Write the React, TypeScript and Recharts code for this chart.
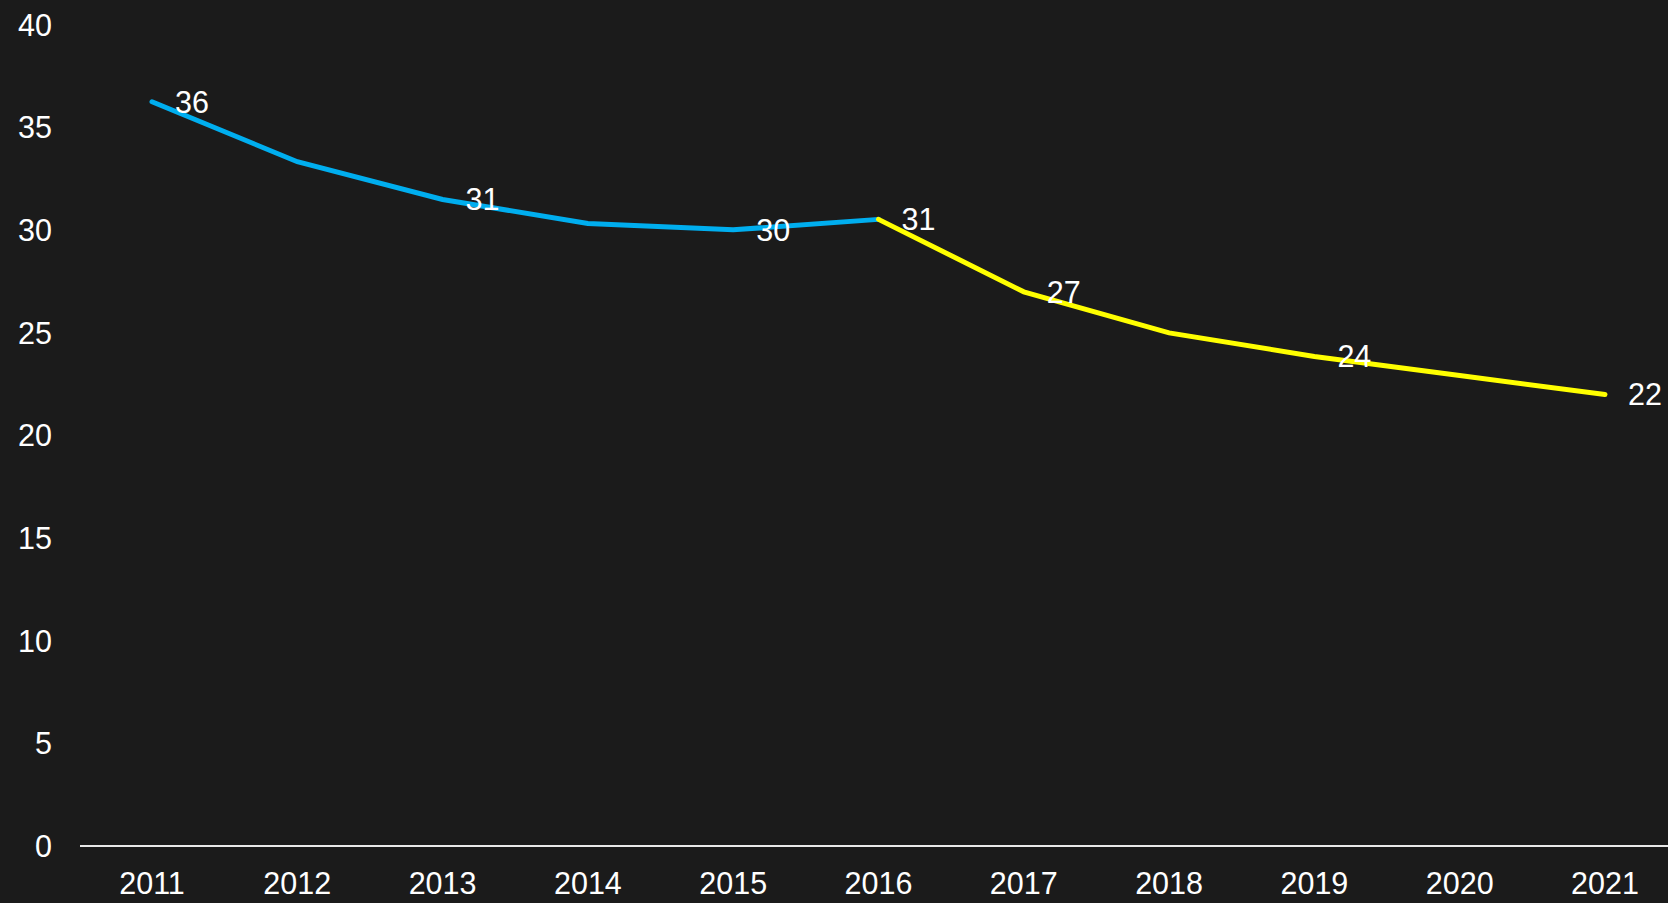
import { CartesianGrid, LabelList, Line, LineChart, XAxis, YAxis } from "recharts";

const years = ["2011", "2012", "2013", "2014", "2015", "2016", "2017", "2018", "2019", "2020", "2021"];
// blue part up to 2016, yellow from 2016 on
const blueValues = [36.26, 33.34, 31.5, 30.33, 30.02, 30.53, null, null, null, null, null];
const yellowValues = [null, null, null, null, null, 30.53, 27.0, 25.0, 23.85, 22.92, 22.0];
const blueLabels = [36, null, 31, null, 30, null, null, null, null, null, null];
const yellowLabels = [null, null, null, null, null, 31, 27, null, 24, null, 22];
const yTicks = [0, 5, 10, 15, 20, 25, 30, 35, 40];

const data = years.map((year, i) => ({
  year,
  blue: blueValues[i],
  yellow: yellowValues[i],
  blueLabel: blueLabels[i],
  yellowLabel: yellowLabels[i],
}));

const font = "'Liberation Sans', Arial, sans-serif";

export default function App() {
  return (
    <div style={{ position: "absolute", left: 0, top: 0, width: 1668, height: 903, background: "#1b1b1b" }}>
      <LineChart width={1668} height={903} data={data} margin={{ top: 25, right: 0, bottom: 0, left: 0 }}>
        <CartesianGrid vertical={false} horizontal={false} />
        <XAxis
          dataKey="year"
          interval={0}
          height={57}
          padding={{ left: 72, right: 63 }}
          axisLine={{ stroke: "#e8e8e8", strokeWidth: 2 }}
          tickLine={false}
          tickSize={0}
          tickMargin={26}
          tick={{ fill: "#ffffff", fontSize: 30.5, fontFamily: font }}
        />
        <YAxis
          domain={[0, 40]}
          ticks={yTicks}
          width={80}
          axisLine={false}
          tickLine={false}
          tickSize={0}
          tickMargin={28}
          tick={{ fill: "#ffffff", fontSize: 30.5, fontFamily: font }}
        />
        <Line
          dataKey="blue"
          stroke="#00aeef"
          strokeWidth={5}
          strokeLinecap="round"
          dot={false}
          activeDot={false}
          isAnimationActive={false}
        >
          <LabelList dataKey="blueLabel" position="right" offset={23} fill="#ffffff" fontSize={30.5} fontFamily={font} />
        </Line>
        <Line
          dataKey="yellow"
          stroke="#ffff00"
          strokeWidth={5}
          strokeLinecap="round"
          dot={false}
          activeDot={false}
          isAnimationActive={false}
        >
          <LabelList dataKey="yellowLabel" position="right" offset={23} fill="#ffffff" fontSize={30.5} fontFamily={font} />
        </Line>
      </LineChart>
    </div>
  );
}
